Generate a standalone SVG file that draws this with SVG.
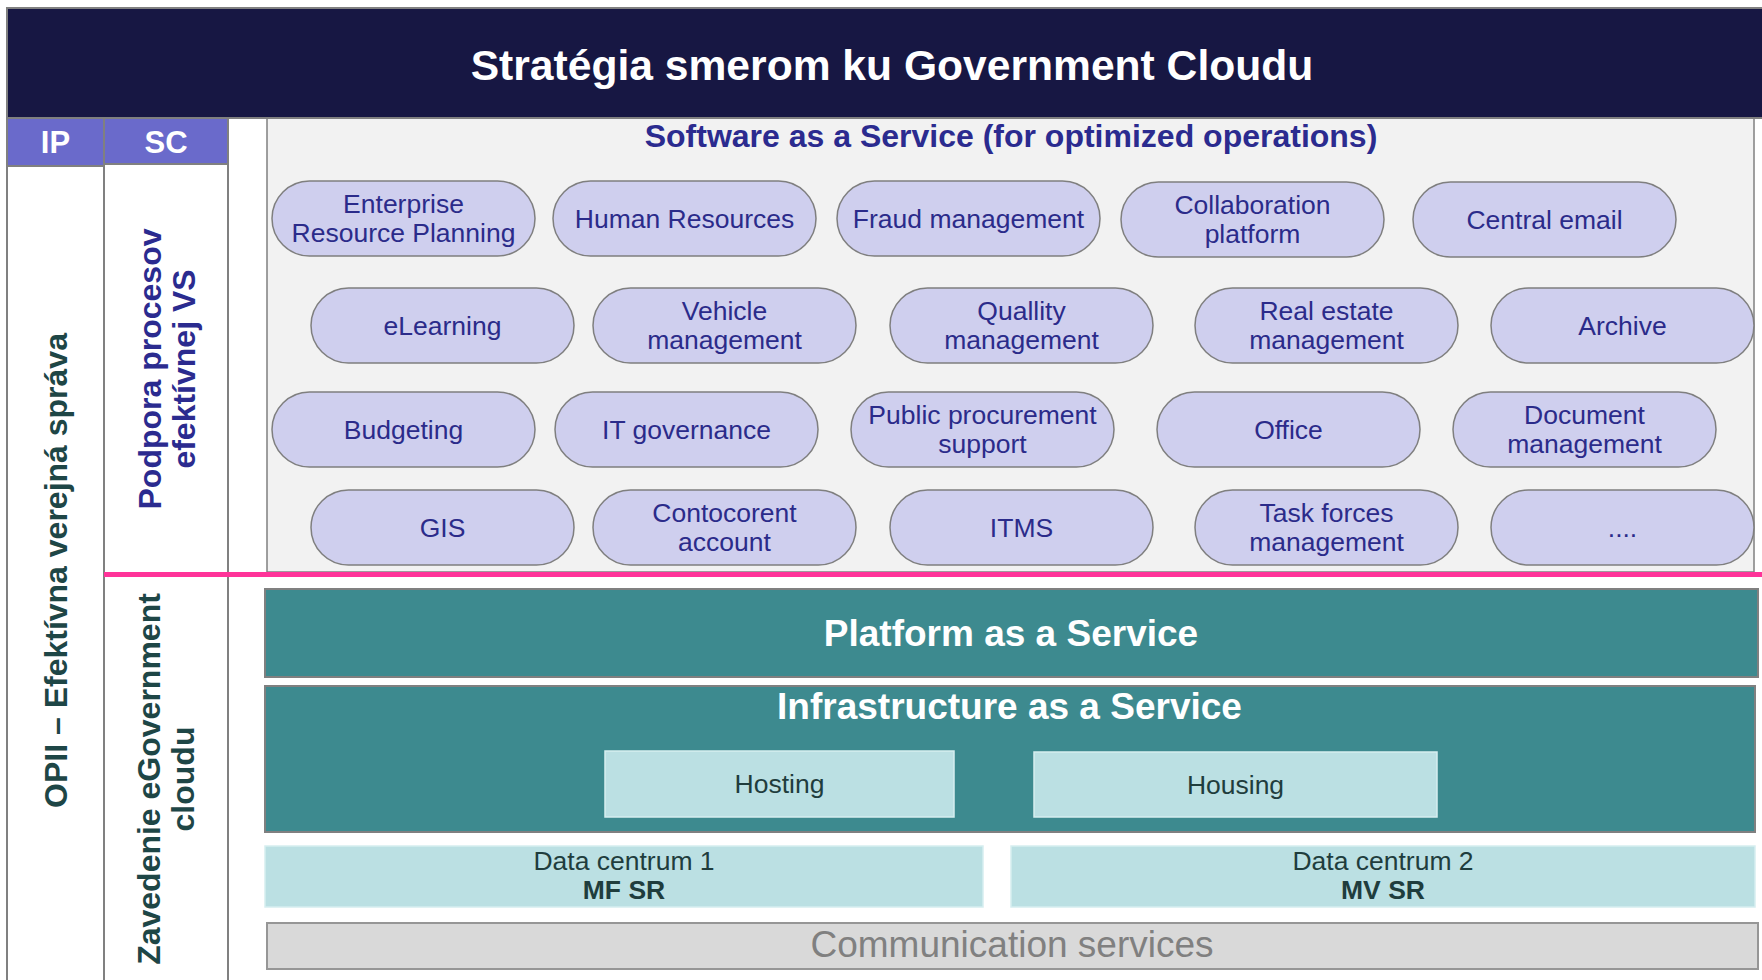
<svg xmlns="http://www.w3.org/2000/svg" width="1762" height="980" viewBox="0 0 1762 980">
<style>
text{font-family:"Liberation Sans",Arial,sans-serif}
.pill rect{fill:#cfcfee;stroke:#7f7f7f;stroke-width:1.5}
.pill text{fill:#2b2b8a;font-size:26.5px;text-anchor:middle}
.grid{stroke:#808080;stroke-width:2;fill:none}
.teal{fill:#3d8a8f;stroke:#808080;stroke-width:2}
.light{fill:#bbe0e3;stroke:#d6eef0;stroke-width:1.5}
.lt{fill:#1f3d3d;font-size:26.5px;text-anchor:middle}
.big{fill:#ffffff;font-size:37px;font-weight:bold;text-anchor:middle}
.side{font-size:32px;font-weight:bold;text-anchor:middle}
</style>
<rect width="1762" height="980" fill="#ffffff"/>
<g id="frame">
<rect x="267" y="118" width="1487" height="454" fill="#f2f2f2" stroke="#808080" stroke-width="1.5"/>
<line class="grid" x1="7" y1="8" x2="7" y2="980"/>
<line class="grid" x1="104" y1="118" x2="104" y2="980"/>
<line class="grid" x1="228" y1="118" x2="228" y2="980"/>
</g>
<g id="title">
<rect x="7" y="8" width="1765" height="110" fill="#171743" stroke="#808080" stroke-width="2"/>
<text x="892" y="80" fill="#ffffff" font-size="42.6" font-weight="bold" text-anchor="middle">Stratégia smerom ku Government Cloudu</text>
</g>
<g id="header-ip">
<rect x="7" y="118" width="97" height="48" fill="#6a6acb" stroke="#808080" stroke-width="2"/>
<text x="55.5" y="153" fill="#ffffff" font-size="31" font-weight="bold" text-anchor="middle">IP</text>
</g>
<g id="header-sc">
<rect x="104" y="118" width="124" height="46" fill="#6a6acb" stroke="#808080" stroke-width="2"/>
<text x="166" y="153" fill="#ffffff" font-size="31" font-weight="bold" text-anchor="middle">SC</text>
</g>
<g id="label-opii">
<text class="side" fill="#1e4646" transform="translate(67,570.5) rotate(-90)">OPII – Efektívna verejná správa</text>
</g>
<g id="label-podpora">
<text class="side" fill="#2b2b8f" transform="translate(160.5,369) rotate(-90)">Podpora procesov</text>
<text class="side" fill="#2b2b8f" transform="translate(195,369) rotate(-90)">efektívnej VS</text>
</g>
<g id="label-zavedenie">
<text class="side" fill="#1e4646" transform="translate(159.5,779) rotate(-90)">Zavedenie eGovernment</text>
<text class="side" fill="#1e4646" transform="translate(193.5,779) rotate(-90)">cloudu</text>
</g>
<g id="saas-title">
<text x="1011" y="147" fill="#2b2b8f" font-size="32" font-weight="bold" text-anchor="middle">Software as a Service (for optimized operations)</text>
</g>
<g id="pill-erp" class="pill"><rect x="272" y="181" width="263" height="75" rx="37.5"/><text x="403.5" y="213">Enterprise</text><text x="403.5" y="242">Resource Planning</text></g>
<g id="pill-hr" class="pill"><rect x="553" y="181" width="263" height="75" rx="37.5"/><text x="684.5" y="228">Human Resources</text></g>
<g id="pill-fraud" class="pill"><rect x="837" y="181" width="263" height="75" rx="37.5"/><text x="968.5" y="228">Fraud management</text></g>
<g id="pill-collab" class="pill"><rect x="1121" y="182" width="263" height="75" rx="37.5"/><text x="1252.5" y="214">Collaboration</text><text x="1252.5" y="243">platform</text></g>
<g id="pill-email" class="pill"><rect x="1413" y="182" width="263" height="75" rx="37.5"/><text x="1544.5" y="229">Central email</text></g>
<g id="pill-elearning" class="pill"><rect x="311" y="288" width="263" height="75" rx="37.5"/><text x="442.5" y="335">eLearning</text></g>
<g id="pill-vehicle" class="pill"><rect x="593" y="288" width="263" height="75" rx="37.5"/><text x="724.5" y="320">Vehicle</text><text x="724.5" y="349">management</text></g>
<g id="pill-quality" class="pill"><rect x="890" y="288" width="263" height="75" rx="37.5"/><text x="1021.5" y="320">Quallity</text><text x="1021.5" y="349">management</text></g>
<g id="pill-realestate" class="pill"><rect x="1195" y="288" width="263" height="75" rx="37.5"/><text x="1326.5" y="320">Real estate</text><text x="1326.5" y="349">management</text></g>
<g id="pill-archive" class="pill"><rect x="1491" y="288" width="263" height="75" rx="37.5"/><text x="1622.5" y="335">Archive</text></g>
<g id="pill-budgeting" class="pill"><rect x="272" y="392" width="263" height="75" rx="37.5"/><text x="403.5" y="439">Budgeting</text></g>
<g id="pill-itgov" class="pill"><rect x="555" y="392" width="263" height="75" rx="37.5"/><text x="686.5" y="439">IT governance</text></g>
<g id="pill-procurement" class="pill"><rect x="851" y="392" width="263" height="75" rx="37.5"/><text x="982.5" y="424">Public procurement</text><text x="982.5" y="453">support</text></g>
<g id="pill-office" class="pill"><rect x="1157" y="392" width="263" height="75" rx="37.5"/><text x="1288.5" y="439">Office</text></g>
<g id="pill-document" class="pill"><rect x="1453" y="392" width="263" height="75" rx="37.5"/><text x="1584.5" y="424">Document</text><text x="1584.5" y="453">management</text></g>
<g id="pill-gis" class="pill"><rect x="311" y="490" width="263" height="75" rx="37.5"/><text x="442.5" y="537">GIS</text></g>
<g id="pill-contocorent" class="pill"><rect x="593" y="490" width="263" height="75" rx="37.5"/><text x="724.5" y="522">Contocorent</text><text x="724.5" y="551">account</text></g>
<g id="pill-itms" class="pill"><rect x="890" y="490" width="263" height="75" rx="37.5"/><text x="1021.5" y="537">ITMS</text></g>
<g id="pill-taskforces" class="pill"><rect x="1195" y="490" width="263" height="75" rx="37.5"/><text x="1326.5" y="522">Task forces</text><text x="1326.5" y="551">management</text></g>
<g id="pill-more" class="pill"><rect x="1491" y="490" width="263" height="75" rx="37.5"/><text x="1622.5" y="537">....</text></g>
<g id="divider">
<line x1="104" y1="574.5" x2="1762" y2="574.5" stroke="#ff3399" stroke-width="5"/>
</g>
<g id="paas">
<rect class="teal" x="265" y="589" width="1493" height="88"/>
<text class="big" x="1011" y="646">Platform as a Service</text>
</g>
<g id="iaas">
<rect class="teal" x="265" y="686" width="1490" height="146"/>
<text class="big" x="1009.5" y="719">Infrastructure as a Service</text>
</g>
<g id="hosting">
<rect class="light" x="605" y="751" width="349" height="66"/>
<text class="lt" x="779.5" y="793">Hosting</text>
</g>
<g id="housing">
<rect class="light" x="1034" y="752" width="403" height="65"/>
<text class="lt" x="1235.5" y="794">Housing</text>
</g>
<g id="dc1">
<rect class="light" x="265" y="846" width="718" height="61"/>
<text class="lt" x="624" y="870">Data centrum 1</text>
<text class="lt" x="624" y="899" font-weight="bold">MF SR</text>
</g>
<g id="dc2">
<rect class="light" x="1011" y="846" width="744" height="61"/>
<text class="lt" x="1383" y="870">Data centrum 2</text>
<text class="lt" x="1383" y="899" font-weight="bold">MV SR</text>
</g>
<g id="comm">
<rect x="267" y="923" width="1491" height="46" fill="#d9d9d9" stroke="#969696" stroke-width="2"/>
<text x="1012" y="957" fill="#808080" font-size="37" text-anchor="middle">Communication services</text>
</g>
</svg>
